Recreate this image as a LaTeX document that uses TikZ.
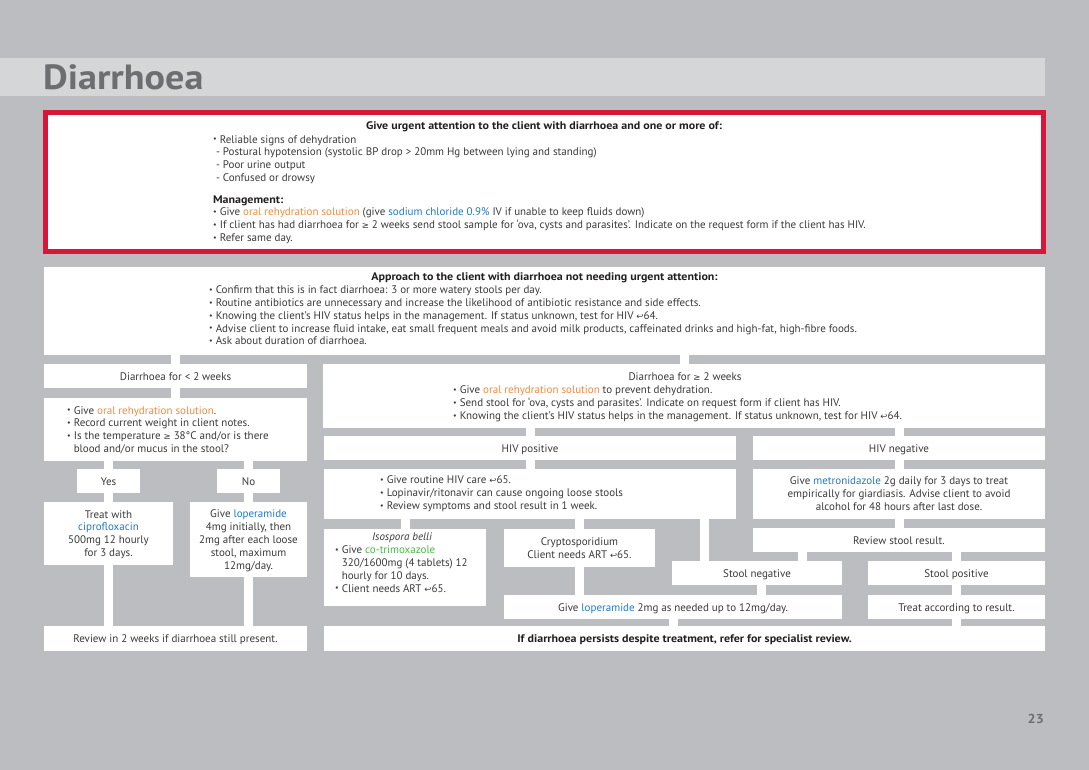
\documentclass[tikz,border=0pt]{standalone}
\usepackage{fontspec}
\setmainfont{PT Sans}[BoldFeatures={FakeStretch=1.09}]
\newfontfamily\symf{DejaVu Sans}[Scale=0.78]
\usetikzlibrary{calc}
\definecolor{pagebg}{HTML}{BCBDC0}
\definecolor{bandc}{HTML}{D5D6D8}
\definecolor{titlec}{HTML}{6D6E71}
\definecolor{urgred}{HTML}{D6173A}
\definecolor{txt}{HTML}{3A3A3C}
\definecolor{hdtxt}{HTML}{231F20}
\definecolor{orsc}{HTML}{F58A3C}
\definecolor{drugc}{HTML}{2479C0}
\definecolor{greenc}{HTML}{4DB848}
\newcommand\retarrow{{\symf ↩}}
\newcommand\geqsym{{\symf ≥}}
\newcommand\ors[1]{\textcolor{orsc}{#1}}
\newcommand\drug[1]{\textcolor{drugc}{#1}}
\newcommand\bul{\makebox[6.8pt][l]{\raisebox{0.2ex}{\footnotesize •}}}
\newcommand\bodyfont{\fontsize{11}{12.9}\selectfont}
\tikzset{
  box/.style={fill=white, inner sep=0pt, outer sep=0pt, anchor=north west, text=txt, font=\bodyfont, align=center},
  one/.style={text height=8pt, text depth=0pt},
  conn/.style={draw=white, line width=9pt},
  blk/.style={inner sep=0pt, outer sep=0pt, anchor=north west, align=left, text=txt, font=\bodyfont},
  hd/.style={inner sep=0pt, anchor=base, text=hdtxt, font=\bodyfont\bfseries}
}
\begin{document}
\begin{tikzpicture}[x=1pt,y=-1pt]
\useasboundingbox (0,0) rectangle (1089,770);
\fill[pagebg] (0,0) rectangle (1089,770);
\fill[bandc] (0,58) rectangle (1045,96);
\node[inner sep=0pt, anchor=base west, text=titlec, font=\fontsize{35}{40}\selectfont\bfseries] (title) at (43,90) {Diarrhoea};

% urgent box
\node[box, draw=urgred, line width=5pt, minimum width=998pt, minimum height=139pt] (urgent) at (45.5,112.5) {};
\node[hd] (urghd) at (544,129.7) {Give urgent attention to the client with diarrhoea and one or more of:};
\node[blk] (urglist) at (213,134) {\strut\bul Reliable signs of dehydration\\
\hspace*{3pt}- Postural hypotension (systolic BP drop > 20mm Hg between lying and standing)\\
\hspace*{3pt}- Poor urine output\\
\hspace*{3pt}- Confused or drowsy\\[8.4pt]
\textbf{\textcolor{hdtxt}{Management:}}\\
\bul Give \ors{oral rehydration solution} (give \drug{sodium chloride 0.9\%} IV if unable to keep fluids down)\\
\bul If client has had diarrhoea for \geqsym{} 2 weeks send stool sample for ‘ova, cysts and parasites’. Indicate on the request form if the client has HIV.\\
\bul Refer same day.};

% approach box
\node[box, minimum width=1001pt, minimum height=88pt] (app) at (44,267) {};
\node[hd] (apphd) at (544.5,280.7) {Approach to the client with diarrhoea not needing urgent attention:};
\node[blk] (applist) at (209,284.3) {\strut\bul Confirm that this is in fact diarrhoea: 3 or more watery stools per day.\\
\bul Routine antibiotics are unnecessary and increase the likelihood of antibiotic resistance and side effects.\\
\bul Knowing the client’s HIV status helps in the management. If status unknown, test for HIV \retarrow64.\\
\bul Advise client to increase fluid intake, eat small frequent meals and avoid milk products, caffeinated drinks and high-fat, high-fibre foods.\\
\bul Ask about duration of diarrhoea.};

% left column
\node[box, one, minimum width=263pt, minimum height=24pt] (b1) at (44,364) {Diarrhoea for < 2 weeks};
\node[box, minimum width=263pt, minimum height=63pt] (b2) at (44,398) {};
\node[blk] (b2list) at (67,405) {\strut\bul Give \ors{oral rehydration solution}.\\
\bul Record current weight in client notes.\\
\bul Is the temperature \geqsym{} 38°C and/or is there\\
\hspace*{6.8pt}blood and/or mucus in the stool?};
\node[box, one, minimum width=63pt, minimum height=24pt] (yes) at (77,469) {Yes};
\node[box, one, minimum width=63pt, minimum height=24pt] (no) at (217,469) {No};
\node[box, minimum width=129pt, minimum height=63pt] (cipro) at (44,502) {\rule{0pt}{10pt}Treat with\\ \drug{ciprofloxacin}\\ 500mg 12 hourly\\ for 3 days.};
\node[box, minimum width=117pt, minimum height=75pt] (lop1) at (190,502) {\rule{0pt}{10pt}Give \drug{loperamide}\\ 4mg initially, then\\ 2mg after each loose\\ stool, maximum\\ 12mg/day.};
\node[box, one, minimum width=263pt, minimum height=25pt] (rev2) at (44,626) {Review in 2 weeks if diarrhoea still present.};

% right area
\node[box, minimum width=722pt, minimum height=64pt] (b3) at (323,364) {};
\node[inner sep=0pt, anchor=base, text=txt, font=\bodyfont] (b3hd) at (685,380) {Diarrhoea for \geqsym{} 2 weeks};
\node[blk] (b3list) at (453,384.3) {\strut\bul Give \ors{oral rehydration solution} to prevent dehydration.\\
\bul Send stool for ‘ova, cysts and parasites’. Indicate on request form if client has HIV.\\
\bul Knowing the client’s HIV status helps in the management. If status unknown, test for HIV \retarrow64.};
\node[box, one, minimum width=412pt, minimum height=24pt] (hivp) at (324,436) {HIV positive};
\node[box, one, minimum width=292pt, minimum height=24pt] (hivn) at (753,436) {HIV negative};
\node[box, minimum width=412pt, minimum height=50pt] (routine) at (324,469) {};
\node[blk] (routlist) at (380,474.3) {\strut\bul Give routine HIV care \retarrow65.\\
\bul Lopinavir/ritonavir can cause ongoing loose stools\\
\bul Review symptoms and stool result in 1 week.};
\node[box, minimum width=292pt, minimum height=50pt] (metro) at (753,469) {Give \drug{metronidazole} 2g daily for 3 days to treat\\ empirically for giardiasis. Advise client to avoid\\ alcohol for 48 hours after last dose.};
\node[box, minimum width=162pt, minimum height=77pt] (iso) at (324,529) {};
\node[inner sep=0pt, anchor=base, text=txt, font=\bodyfont\itshape] (isohd) at (402,540.7) {Isospora belli};
\node[blk] (isolist) at (335,544.3) {\strut\bul Give \textcolor{greenc}{co-trimoxazole}\\
\hspace*{6.8pt}320/1600mg (4 tablets) 12\\
\hspace*{6.8pt}hourly for 10 days.\\
\bul Client needs ART \retarrow65.};
\node[box, minimum width=151pt, minimum height=38pt] (crypto) at (504,529) {Cryptosporidium\\ Client needs ART \retarrow65.};
\node[box, one, minimum width=292pt, minimum height=24pt] (revs) at (753,528) {Review stool result.};
\node[box, one, minimum width=170pt, minimum height=24pt] (sneg) at (672,561) {Stool negative};
\node[box, one, minimum width=177pt, minimum height=24pt] (spos) at (868,561) {Stool positive};
\node[box, one, minimum width=338pt, minimum height=24pt] (lop2) at (504,595) {Give \drug{loperamide} 2mg as needed up to 12mg/day.};
\node[box, one, minimum width=177pt, minimum height=24pt] (treat) at (868,595) {Treat according to result.};
\node[box, one, minimum width=721pt, minimum height=25pt, font=\bodyfont\bfseries, text=hdtxt] (final) at (324,626) {If diarrhoea persists despite treatment, refer for specialist review.};

% connectors
\coordinate (xr) at (704.5,0);
\coordinate (xs) at (802.5,0);
\coordinate (xn) at (761,0);
\draw[conn] (b1.north |- app.south) -- (b1.north);
\draw[conn] (b1.south) -- (b1.south |- b2.north);
\draw[conn] (yes.north |- b2.south) -- (yes.north);
\draw[conn] (no.north |- b2.south) -- (no.north);
\draw[conn] (yes.south) -- (cipro.north -| yes.south);
\draw[conn] (no.south) -- (lop1.north -| no.south);
\draw[conn] (cipro.south -| yes.south) -- (rev2.north -| yes.south);
\draw[conn] (lop1.south -| no.south) -- (rev2.north -| no.south);
\draw[conn] (b3.north |- app.south) -- (b3.north);
\draw[conn] (hivp.north |- b3.south) -- (hivp.north);
\draw[conn] (hivn.north |- b3.south) -- (hivn.north);
\draw[conn] (hivp.south) -- (routine.north);
\draw[conn] (hivn.south) -- (metro.north);
\draw[conn] (iso.north |- routine.south) -- (iso.north);
\draw[conn] (crypto.north |- routine.south) -- (crypto.north);
\draw[conn] (crypto.south) -- (crypto.south |- lop2.north);
\draw[conn] (xr |- routine.south) -- (xr |- sneg.north);
\draw[conn] (metro.south) -- (revs.north);
\draw[conn] (xs |- revs.south) -- (xs |- sneg.north);
\draw[conn] (spos.north |- revs.south) -- (spos.north);
\draw[conn] (xn |- sneg.south) -- (xn |- lop2.north);
\draw[conn] (spos.south) -- (treat.north);
\draw[conn] (lop2.south) -- (lop2.south |- final.north);
\draw[conn] (treat.south) -- (treat.south |- final.north);

\node[inner sep=0pt, anchor=base east, text=titlec, font=\fontsize{13}{15}\selectfont\bfseries] (pnum) at (1044,723) {23};
\end{tikzpicture}
\end{document}
